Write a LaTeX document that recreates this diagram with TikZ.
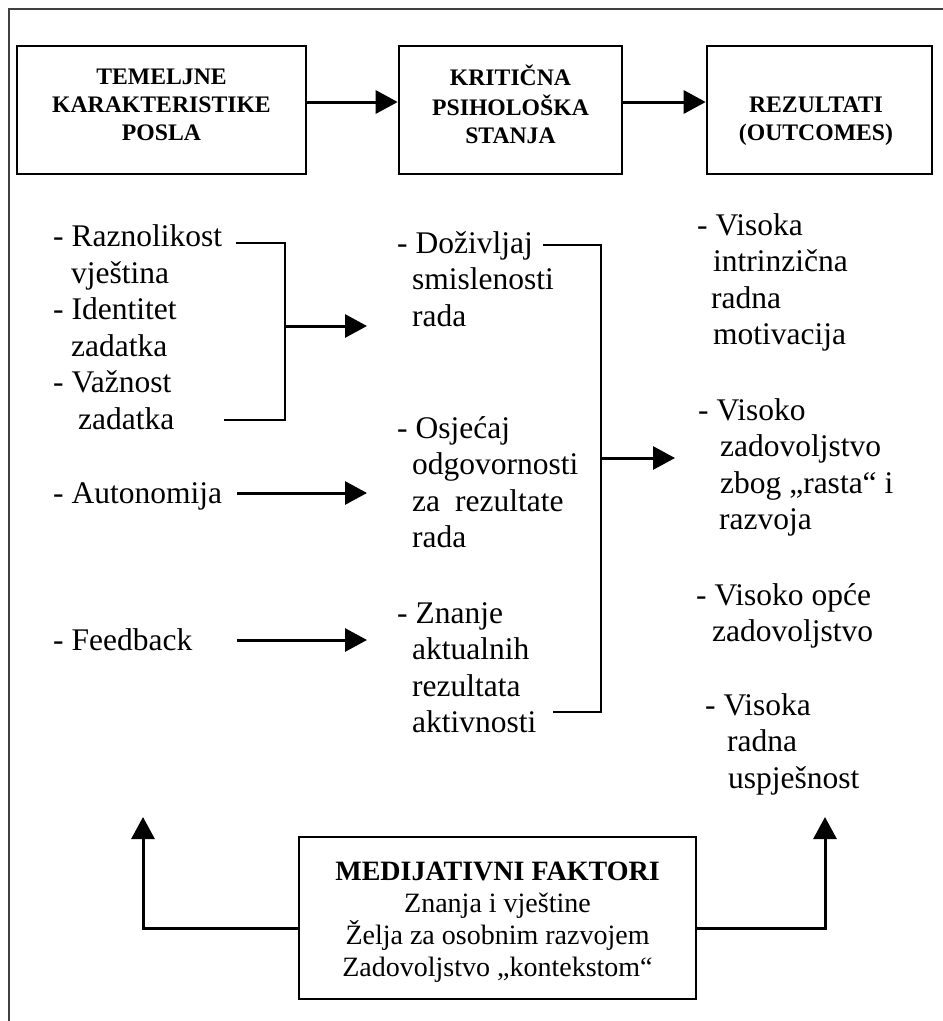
\documentclass[tikz,border=0pt]{standalone}
\usepackage{fontspec}
\setmainfont{Liberation Serif}
\usetikzlibrary{arrows.meta}
\begin{document}
\begin{tikzpicture}[x=1pt,y=-1pt,
  frame/.style={line width=2pt, black!75},
  boxn/.style={draw, line width=2.6pt, inner sep=0pt},
  title/.style={font=\fontsize{23.7}{28}\selectfont\bfseries, align=center, inner sep=0pt, anchor=north},
  txt/.style={font=\fontsize{31.5}{36.5}\selectfont, align=left, inner sep=0pt, anchor=north west},
  txtone/.style={font=\fontsize{31.5}{36.5}\selectfont, inner sep=0pt, anchor=base west},
  med/.style={font=\fontsize{28}{32}\selectfont, align=center, inner sep=0pt, anchor=north},
  arr/.style={line width=3pt, -{Triangle[length=22pt,width=23pt]}},
  brk/.style={line width=2.5pt}]
\useasboundingbox (0,0) rectangle (943,1021);
\fill[white] (0,0) rectangle (943,1021);
% outer frame (partly cut off)
\draw[frame] (9,1021) -- (9,9) -- (943,9);
% top boxes
\node[boxn, minimum width=289pt, minimum height=128pt] (b1) at (161.5,110) {};
\node[boxn, minimum width=223pt, minimum height=128pt] (b2) at (510.5,110) {};
\node[boxn, minimum width=225pt, minimum height=128pt] (b3) at (819.5,110) {};
\node[title] (t1) at (161.5,64.4) {\strut TEMELJNE\\KARAKTERISTIKE\\POSLA};
\node[title] (t2) at (510.5,64.4) {\strut KRITIČNA\\PSIHOLOŠKA\\STANJA};
\node[title] (t3) at (816,92.4) {\strut REZULTATI\\(OUTCOMES)};
\draw[arr] ([yshift=8pt]b1.east) -- ([yshift=8pt]b2.west);
\draw[arr] ([yshift=8pt]b2.east) -- ([yshift=8pt]b3.west);
% left column
\node[txt] (L1) at (53,221) {\strut- Raznolikost\\\hspace*{18pt}vještina\\- Identitet\\\hspace*{18pt}zadatka\\- Važnost\\\hspace*{25pt}zadatka};
\node[txtone] (au) at (53,503) {- Autonomija};
\node[txtone] (fb) at (53,650) {- Feedback};
% middle column
\node[txt] (M1) at (397,227.45) {\strut- Doživljaj\\\hspace*{15pt}smislenosti\\\hspace*{15pt}rada};
\node[txt] (M2) at (397,412.45) {\strut- Osjećaj\\\hspace*{15pt}odgovornosti\\\hspace*{15pt}za\hspace{15pt}rezultate\\\hspace*{15pt}rada};
\node[txt] (M3) at (397,597.45) {\strut- Znanje\\\hspace*{15pt}aktualnih\\\hspace*{15pt}rezultata\\\hspace*{15pt}aktivnosti};
% right column
\node[txt] (R1) at (697,209.45) {\strut- Visoka\\\hspace*{16pt}intrinzična\\\hspace*{14pt}radna\\\hspace*{16pt}motivacija};
\node[txt] (R2) at (698,394.45) {\strut- Visoko\\\hspace*{22pt}zadovoljstvo\\\hspace*{22pt}zbog „rasta“ i\\\hspace*{21pt}razvoja};
\node[txt] (R3) at (696,579.45) {\strut- Visoko opće\\\hspace*{16pt}zadovoljstvo};
\node[txt] (R4) at (705,689.45) {\strut- Visoka\\\hspace*{22pt}radna\\\hspace*{23pt}uspješnost};
% bracket 1 and arrows to middle column
\coordinate (k1a) at (236,243);
\coordinate (k1b) at (224,420);
\coordinate (k1x) at (285,326);
\coordinate (k1t) at (367,326);
\draw[brk] (k1a) -| (k1x) |- (k1b);
\draw[arr] (k1x) -- (k1t);
\coordinate (aus) at (237,493);
\coordinate (aut) at (367,493);
\draw[arr] (aus) -- (aut);
\coordinate (fbs) at (237,640);
\coordinate (fbt) at (367,640);
\draw[arr] (fbs) -- (fbt);
% bracket 2 and arrow to right column
\coordinate (k2a) at (543,245);
\coordinate (k2b) at (553,712);
\coordinate (k2x) at (601,458);
\coordinate (k2t) at (675,458);
\draw[brk] (k2a) -| (k2x) |- (k2b);
\draw[arr] (k2x) -- (k2t);
% bottom box
\node[boxn, minimum width=397pt, minimum height=162pt] (mb) at (497.5,918) {};
\node[med] (mt) at (497.5,857.6) {\strut\textbf{MEDIJATIVNI FAKTORI}\\Znanja i vještine\\Želja za osobnim razvojem\\Zadovoljstvo „kontekstom“};
\coordinate (la) at (143,817);
\coordinate (ra) at (825,817);
\draw[arr] ([yshift=-10pt]mb.west) -| (la);
\draw[arr] ([yshift=-10pt]mb.east) -| (ra);
\end{tikzpicture}
\end{document}
